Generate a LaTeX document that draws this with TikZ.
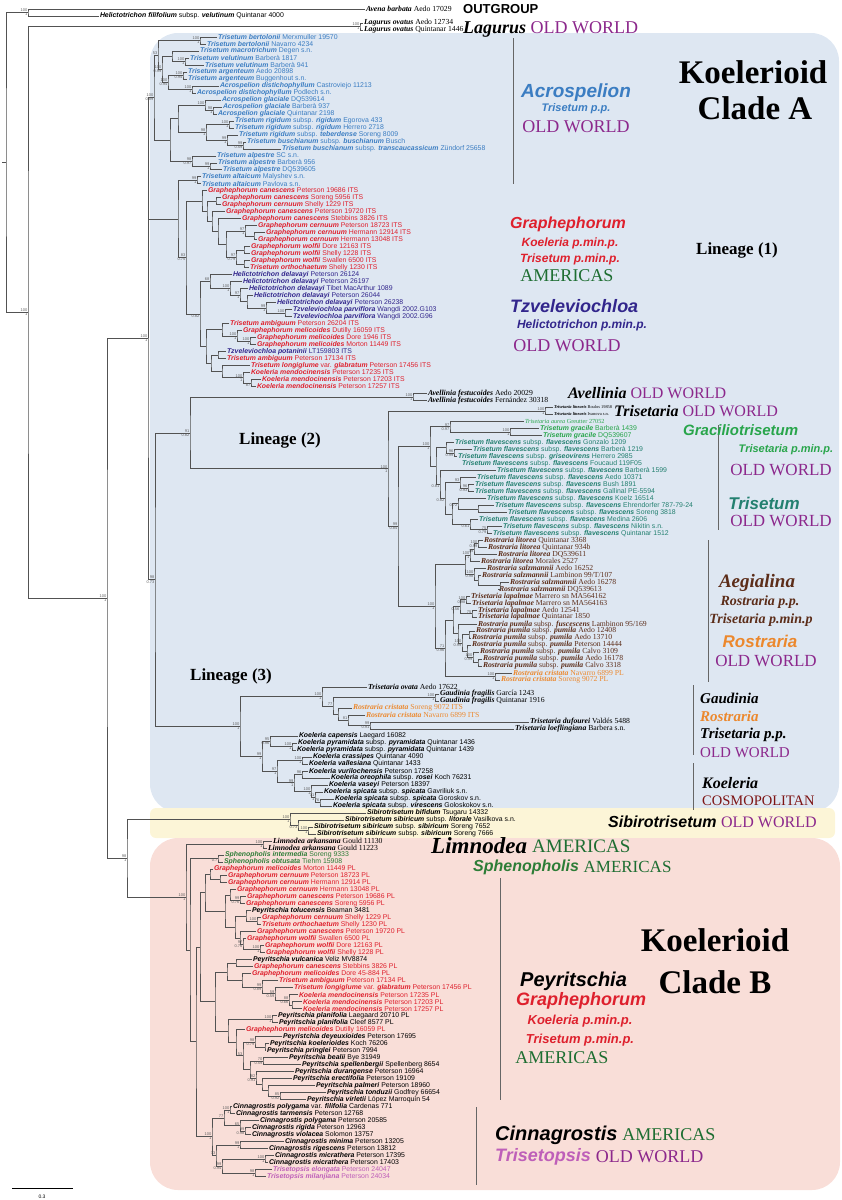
\documentclass[tikz,border=0pt]{standalone}
\usepackage{fontspec}
\setmainfont{Liberation Serif}
\setsansfont{Liberation Sans}
\usepackage{tikz}
\usetikzlibrary{calc,positioning}

\definecolor{acroblue}{RGB}{59,125,194}
\definecolor{graphred}{RGB}{222,32,45}
\definecolor{tzvindigo}{RGB}{50,38,140}
\definecolor{gracgreen}{RGB}{40,165,75}
\definecolor{flavteal}{RGB}{35,128,112}
\definecolor{rostbrown}{RGB}{92,45,25}
\definecolor{cristorange}{RGB}{236,136,45}
\definecolor{sphgreen}{RGB}{45,125,55}
\definecolor{tpink}{RGB}{190,95,185}
\definecolor{oldworld}{RGB}{140,40,140}
\definecolor{americas}{RGB}{30,110,50}
\definecolor{cosmo}{RGB}{125,20,20}
\definecolor{bgA}{RGB}{222,231,242}
\definecolor{bgS}{RGB}{252,245,215}
\definecolor{bgB}{RGB}{249,222,216}

\newcommand{\taxon}[1]{\textbf{\textit{#1}}}
\newcommand{\fsz}[1]{\fontsize{#1}{#1}\selectfont}
\newcommand{\flav}[1]{\taxon{Trisetum flavescens} subsp. \taxon{#1}}
\newcommand{\pum}[1]{\taxon{Rostraria pumila} subsp. \taxon{#1}}
% tip: name, row, x, style, text
\newcommand{\tip}[5]{\node[#4] (#1) at (#3pt,{-(2.01pt+6.99pt*#2)}) {#5};}
% support values left of a clade
\newcommand{\support}[3]{%
  \if\relax\detokenize{#2}\relax\else\node[bsup,anchor=south east] (#1-bs) at (#1) {#2};\fi
  \if\relax\detokenize{#3}\relax\else\node[bsup,anchor=north east] (#1-pp) at (#1) {#3};\fi
}
% clade: name, x, first child, last child, bootstrap, posterior
\newcommand{\clade}[6]{%
  \path let \p1=(#3), \p2=(#4) in (#2pt,{0.5*(\y1+\y2)}) coordinate (#1);
  \draw[branch] (#3) -| (#1) |- (#4);
  \support{#1}{#5}{#6}
}
% three-way clade: name, x, first, middle, last, bootstrap, posterior
\newcommand{\cladeiii}[7]{%
  \path let \p1=(#3), \p2=(#5) in (#2pt,{0.5*(\y1+\y2)}) coordinate (#1);
  \draw[branch] (#3) -| (#1) |- (#5);
  \draw[branch] (#1) |- (#4);
  \support{#1}{#6}{#7}
}

\begin{document}
\begin{tikzpicture}[x=1pt, y=-1pt,
    branch/.style={draw=black!68, line width=0.55pt},
    bsup/.style={font=\fsz{4}\sffamily, text=black!62, inner sep=0.4pt},
    tipS/.style={anchor=west, inner xsep=0.8pt, inner ysep=0pt, font=\fsz{6.9}\sffamily},
    tipR/.style={anchor=west, inner xsep=0.8pt, inner ysep=0pt, font=\fsz{7.7}\rmfamily},
    tA/.style={tipS, text=acroblue},
    tR/.style={tipS, text=graphred},
    tI/.style={tipS, text=tzvindigo},
    tK/.style={tipS, text=black},
    tS/.style={tipR, text=black},
    tSs/.style={tipR, text=black, font=\fsz{4.4}\rmfamily},
    tG/.style={tipR, text=gracgreen, font=\fsz{6.2}\rmfamily},
    tGs/.style={tipS, text=gracgreen},
    tT/.style={tipS, text=flavteal},
    tB/.style={tipR, text=rostbrown},
    tO/.style={tipR, text=cristorange},
    tSp/.style={tipS, text=sphgreen},
    tP/.style={tipS, text=tpink},
    bar/.style={draw=black!60, line width=0.8pt},
    grpsans/.style={font=\sffamily\bfseries\itshape, inner sep=0pt},
    grpserif/.style={font=\rmfamily, inner sep=0pt},
  ]
  \useasboundingbox (0,0) rectangle (842,1200);

  % shaded clades
  \fill[bgA, rounded corners=28pt] (150,33) rectangle (839,812);
  \fill[bgS, rounded corners=6pt] (150,808) rectangle (835,838);
  \fill[bgB, rounded corners=28pt] (150,838) rectangle (840,1190);

  % outgroup and Lagurus
  \tip{t1}{1}{365}{tS}{\taxon{Avena barbata} Aedo 17029}
  \tip{t2}{2}{99}{tK}{\taxon{Helictotrichon filifolium} subsp. \taxon{velutinum} Quintanar 4000}
  \tip{t3}{3}{363}{tS}{\taxon{Lagurus ovatus} Aedo 12734}
  \tip{t4}{4}{363}{tS}{\taxon{Lagurus ovatus} Quintanar 1446}

  % Acrospelion
  \tip{t5}{5}{217}{tA}{\taxon{Trisetum bertolonii} Merxmuller 19570}
  \tip{t6}{6}{206}{tA}{\taxon{Trisetum bertolonii} Navarro 4234}
  \tip{t7}{7}{199}{tA}{\taxon{Trisetum macrotrichum} Degen s.n.}
  \tip{t8}{8}{189}{tA}{\taxon{Trisetum velutinum} Barberà 1817}
  \tip{t9}{9}{204}{tA}{\taxon{Trisetum velutinum} Barberà 941}
  \tip{t10}{10}{187}{tA}{\taxon{Trisetum argenteum} Aedo 20898}
  \tip{t11}{11}{187}{tA}{\taxon{Trisetum argenteum} Buggenhout s.n.}
  \tip{t12}{12}{219}{tA}{\taxon{Acrospelion distichophyllum} Castroviejo 11213}
  \tip{t13}{13}{196}{tA}{\taxon{Acrospelion distichophyllum} Podlech s.n.}
  \tip{t14}{14}{221}{tA}{\taxon{Acrospelion glaciale} DQ539614}
  \tip{t15}{15}{222}{tA}{\taxon{Acrospelion glaciale} Barberà 937}
  \tip{t16}{16}{217}{tA}{\taxon{Acrospelion glaciale} Quintanar 2198}
  \tip{t17}{17}{234}{tA}{\taxon{Trisetum rigidum} subsp. \taxon{rigidum} Egorova 433}
  \tip{t18}{18}{234}{tA}{\taxon{Trisetum rigidum} subsp. \taxon{rigidum} Herrero 2718}
  \tip{t19}{19}{238}{tA}{\taxon{Trisetum rigidum} subsp. \taxon{teberdense} Soreng 8009}
  \tip{t20}{20}{246}{tA}{\taxon{Trisetum buschianum} subsp. \taxon{buschianum} Busch}
  \tip{t21}{21}{281}{tA}{\taxon{Trisetum buschianum} subsp. \taxon{transcaucassicum} Zündorf 25658}
  \tip{t22}{22}{216}{tA}{\taxon{Trisetum alpestre} SC s.n.}
  \tip{t23}{23}{217}{tA}{\taxon{Trisetum alpestre} Barberà 956}
  \tip{t24}{24}{222}{tA}{\taxon{Trisetum alpestre} DQ539605}
  \tip{t25}{25}{201}{tA}{\taxon{Trisetum altaicum} Malyshev s.n.}
  \tip{t26}{26}{201}{tA}{\taxon{Trisetum altaicum} Pavlova s.n.}

  % Graphephorum (ITS)
  \tip{t27}{27}{207}{tR}{\taxon{Graphephorum canescens} Peterson 19686 ITS}
  \tip{t28}{28}{221}{tR}{\taxon{Graphephorum canescens} Soreng 5956 ITS}
  \tip{t29}{29}{221}{tR}{\taxon{Graphephorum cernuum} Shelly 1229 ITS}
  \tip{t30}{30}{225}{tR}{\taxon{Graphephorum canescens} Peterson 19720 ITS}
  \tip{t31}{31}{241}{tR}{\taxon{Graphephorum canescens} Stebbins 3826 ITS}
  \tip{t32}{32}{257}{tR}{\taxon{Graphephorum cernuum} Peterson 18723 ITS}
  \tip{t33}{33}{265}{tR}{\taxon{Graphephorum cernuum} Hermann 12914 ITS}
  \tip{t34}{34}{257}{tR}{\taxon{Graphephorum cernuum} Hermann 13048 ITS}
  \tip{t35}{35}{250}{tR}{\taxon{Graphephorum wolfii} Dore 12163 ITS}
  \tip{t36}{36}{250}{tR}{\taxon{Graphephorum wolfii} Shelly 1228 ITS}
  \tip{t37}{37}{250}{tR}{\taxon{Graphephorum wolfii} Swallen 6500 ITS}
  \tip{t38}{38}{249}{tR}{\taxon{Trisetum orthochaetum} Shelly 1230 ITS}

  % Tzveleviochloa
  \tip{t39}{39}{232}{tI}{\taxon{Helictotrichon delavayi} Peterson 26124}
  \tip{t40}{40}{242}{tI}{\taxon{Helictotrichon delavayi} Peterson 26197}
  \tip{t41}{41}{248}{tI}{\taxon{Helictotrichon delavayi} Tibet MacArthur 1089}
  \tip{t42}{42}{253}{tI}{\taxon{Helictotrichon delavayi} Peterson 26044}
  \tip{t43}{43}{276}{tI}{\taxon{Helictotrichon delavayi} Peterson 26238}
  \tip{t44}{44}{292}{tI}{\taxon{Tzveleviochloa parviflora} Wangdi 2002.G103}
  \tip{t45}{45}{292}{tI}{\taxon{Tzveleviochloa parviflora} Wangdi 2002.G96}
  \tip{t46}{46}{229}{tR}{\taxon{Trisetum ambiguum} Peterson 26204 ITS}
  \tip{t47}{47}{242}{tR}{\taxon{Graphephorum melicoides} Dutilly 16059 ITS}
  \tip{t48}{48}{256}{tR}{\taxon{Graphephorum melicoides} Dore 1946 ITS}
  \tip{t49}{49}{256}{tR}{\taxon{Graphephorum melicoides} Morton 11449 ITS}
  \tip{t50}{50}{226}{tI}{\taxon{Tzveleviochloa potaninii} LT159803 ITS}
  \tip{t51}{51}{226}{tR}{\taxon{Trisetum ambiguum} Peterson 17134 ITS}
  \tip{t52}{52}{250}{tR}{\taxon{Trisetum longiglume} var. \taxon{glabratum} Peterson 17456 ITS}
  \tip{t53}{53}{250}{tR}{\taxon{Koeleria mendocinensis} Peterson 17235 ITS}
  \tip{t54}{54}{261}{tR}{\taxon{Koeleria mendocinensis} Peterson 17203 ITS}
  \tip{t55}{55}{256}{tR}{\taxon{Koeleria mendocinensis} Peterson 17257 ITS}

  % Lineage 2
  \tip{t56}{56}{427}{tS}{\taxon{Avellinia festucoides} Aedo 20029}
  \tip{t57}{57}{427}{tS}{\taxon{Avellinia festucoides} Fernández 30318}
  \tip{t58}{58}{553}{tSs}{\taxon{Trisetaria linearis} Boulos 19858}
  \tip{t59}{59}{553}{tSs}{\taxon{Trisetaria linearis} Ivanova s.n.}
  \tip{t60}{60}{524}{tG}{\textit{Trisetaria aurea} Greutter 27052}
  \tip{t61}{61}{539}{tGs}{\taxon{Trisetum gracile} Barberà 1439}
  \tip{t62}{62}{542}{tGs}{\taxon{Trisetum gracile} DQ539607}
  \tip{t63}{63}{454}{tT}{\flav{flavescens} Gonzalo 1209}
  \tip{t64}{64}{472}{tT}{\flav{flavescens} Barberà 1219}
  \tip{t65}{65}{457}{tT}{\flav{griseovirens} Herrero 2985}
  \tip{t66}{66}{461}{tT}{\flav{flavescens} Foucaud 119F05}
  \tip{t67}{67}{496}{tT}{\flav{flavescens} Barberà 1599}
  \tip{t68}{68}{476}{tT}{\flav{flavescens} Aedo 10371}
  \tip{t69}{69}{474}{tT}{\flav{flavescens} Bush 1891}
  \tip{t70}{70}{474}{tT}{\flav{flavescens} Gallinal PE-5594}
  \tip{t71}{71}{486}{tT}{\flav{flavescens} Koelz 16514}
  \tip{t72}{72}{494}{tT}{\flav{flavescens} Ehrendorfer 787-79-24}
  \tip{t73}{73}{507}{tT}{\flav{flavescens} Soreng 3818}
  \tip{t74}{74}{478}{tT}{\flav{flavescens} Medina 2606}
  \tip{t75}{75}{502}{tT}{\flav{flavescens} Nikitin s.n.}
  \tip{t76}{76}{492}{tT}{\flav{flavescens} Quintanar 1512}
  \tip{t77}{77}{483}{tB}{\taxon{Rostraria litorea} Quintanar 3368}
  \tip{t78}{78}{487}{tB}{\taxon{Rostraria litorea} Quintanar 934b}
  \tip{t79}{79}{497}{tB}{\taxon{Rostraria litorea} DQ539611}
  \tip{t80}{80}{480}{tB}{\taxon{Rostraria litorea} Morales 2527}
  \tip{t81}{81}{486}{tB}{\taxon{Rostraria salzmannii} Aedo 16252}
  \tip{t82}{82}{481}{tB}{\taxon{Rostraria salzmannii} Lambinon 99/T/107}
  \tip{t83}{83}{509}{tB}{\taxon{Rostraria salzmannii} Aedo 16278}
  \tip{t84}{84}{498}{tB}{\taxon{Rostraria salzmannii} DQ539613}
  \tip{t85}{85}{470}{tB}{\taxon{Trisetaria lapalmae} Marrero sn MA564162}
  \tip{t86}{86}{471}{tB}{\taxon{Trisetaria lapalmae} Marrero sn MA564163}
  \tip{t87}{87}{477}{tB}{\taxon{Trisetaria lapalmae} Aedo 12541}
  \tip{t88}{88}{477}{tB}{\taxon{Trisetaria lapalmae} Quintanar 1850}
  \tip{t89}{89}{477}{tB}{\pum{fuscescens} Lambinon 95/169}
  \tip{t90}{90}{475}{tB}{\pum{pumila} Aedo 12408}
  \tip{t91}{91}{471}{tB}{\pum{pumila} Aedo 13710}
  \tip{t92}{92}{471}{tB}{\pum{pumila} Peterson 14444}
  \tip{t93}{93}{479}{tB}{\pum{pumila} Calvo 3109}
  \tip{t94}{94}{482}{tB}{\pum{pumila} Aedo 16178}
  \tip{t95}{95}{482}{tB}{\pum{pumila} Calvo 3318}
  \tip{t96}{96}{512}{tO}{\taxon{Rostraria cristata} Navarro 6899 PL}
  \tip{t97}{97}{500}{tO}{\taxon{Rostraria cristata} Soreng 9072 PL}

  % Lineage 3
  \tip{t98}{98}{367}{tS}{\taxon{Trisetaria ovata} Aedo 17622}
  \tip{t99}{99}{439}{tS}{\taxon{Gaudinia fragilis} García 1243}
  \tip{t100}{100}{439}{tS}{\taxon{Gaudinia fragilis} Quintanar 1916}
  \tip{t101}{101}{352}{tO}{\taxon{Rostraria cristata} Soreng 9072 ITS}
  \tip{t102}{102}{365}{tO}{\taxon{Rostraria cristata} Navarro 6899 ITS}
  \tip{t103}{103}{529}{tS}{\taxon{Trisetaria dufourei} Valdés 5488}
  \tip{t104}{104}{514}{tS}{\taxon{Trisetaria loeflingiana} Barbera s.n.}
  \tip{t105}{105}{298}{tK}{\taxon{Koeleria capensis} Laegard 16082}
  \tip{t106}{106}{297}{tK}{\taxon{Koeleria pyramidata} subsp. \taxon{pyramidata} Quintanar 1436}
  \tip{t107}{107}{296}{tK}{\taxon{Koeleria pyramidata} subsp. \taxon{pyramidata} Quintanar 1439}
  \tip{t108}{108}{312}{tK}{\taxon{Koeleria crassipes} Quintanar 4090}
  \tip{t109}{109}{308}{tK}{\taxon{Koeleria vallesiana} Quintanar 1433}
  \tip{t110}{110}{308}{tK}{\taxon{Koeleria vurilochensis} Peterson 17258}
  \tip{t111}{111}{330}{tK}{\taxon{Koeleria oreophila} subsp. \taxon{rosei} Koch 76231}
  \tip{t112}{112}{328}{tK}{\taxon{Koeleria vaseyi} Peterson 18397}
  \tip{t113}{113}{323}{tK}{\taxon{Koeleria spicata} subsp. \taxon{spicata} Gavriliuk s.n.}
  \tip{t114}{114}{334}{tK}{\taxon{Koeleria spicata} subsp. \taxon{spicata} Goroskov s.n.}
  \tip{t115}{115}{332}{tK}{\taxon{Koeleria spicata} subsp. \taxon{virescens} Goloskokov s.n.}

  % Sibirotrisetum
  \tip{t116}{116}{366}{tK}{\taxon{Sibirotrisetum bifidum} Tsugaru 14332}
  \tip{t117}{117}{344}{tK}{\taxon{Sibirotrisetum sibiricum} subsp. \taxon{litorale} Vasilkova s.n.}
  \tip{t118}{118}{313}{tK}{\taxon{Sibirotrisetum sibiricum} subsp. \taxon{sibiricum} Soreng 7652}
  \tip{t119}{119}{316}{tK}{\taxon{Sibirotrisetum sibiricum} subsp. \taxon{sibiricum} Soreng 7666}

  % Clade B
  \tip{t120}{120}{272}{tS}{\taxon{Limnodea arkansana} Gould 11130}
  \tip{t121}{121}{267}{tS}{\taxon{Limnodea arkansana} Gould 11223}
  \tip{t122}{122}{224}{tSp}{\taxon{Sphenopholis intermedia} Soreng 9333}
  \tip{t123}{123}{223}{tSp}{\taxon{Sphenopholis obtusata} Tiehm 15908}
  \tip{t124}{124}{213}{tR}{\taxon{Graphephorum melicoides} Morton 11449 PL}
  \tip{t125}{125}{227}{tR}{\taxon{Graphephorum cernuum} Peterson 18723 PL}
  \tip{t126}{126}{227}{tR}{\taxon{Graphephorum cernuum} Hermann 12914 PL}
  \tip{t127}{127}{236}{tR}{\taxon{Graphephorum cernuum} Hermann 13048 PL}
  \tip{t128}{128}{246}{tR}{\taxon{Graphephorum canescens} Peterson 19686 PL}
  \tip{t129}{129}{245}{tR}{\taxon{Graphephorum canescens} Soreng 5956 PL}
  \tip{t130}{130}{251}{tK}{\taxon{Peyritschia tolucensis} Beaman 3481}
  \tip{t131}{131}{261}{tR}{\taxon{Graphephorum cernuum} Shelly 1229 PL}
  \tip{t132}{132}{261}{tR}{\taxon{Trisetum orthochaetum} Shelly 1230 PL}
  \tip{t133}{133}{256}{tR}{\taxon{Graphephorum canescens} Peterson 19720 PL}
  \tip{t134}{134}{246}{tR}{\taxon{Graphephorum wolfii} Swallen 6500 PL}
  \tip{t135}{135}{264}{tR}{\taxon{Graphephorum wolfii} Dore 12163 PL}
  \tip{t136}{136}{265}{tR}{\taxon{Graphephorum wolfii} Shelly 1228 PL}
  \tip{t137}{137}{252}{tK}{\taxon{Peyritschia vulcanica} Veliz MV8874}
  \tip{t138}{138}{253}{tR}{\taxon{Graphephorum canescens} Stebbins 3826 PL}
  \tip{t139}{139}{251}{tR}{\taxon{Graphephorum melicoides} Dore 45-884 PL}
  \tip{t140}{140}{278}{tR}{\taxon{Trisetum ambiguum} Peterson 17134 PL}
  \tip{t141}{141}{293}{tR}{\taxon{Trisetum longiglume} var. \taxon{glabratum} Peterson 17456 PL}
  \tip{t142}{142}{298}{tR}{\taxon{Koeleria mendocinensis} Peterson 17235 PL}
  \tip{t143}{143}{302}{tR}{\taxon{Koeleria mendocinensis} Peterson 17203 PL}
  \tip{t144}{144}{302}{tR}{\taxon{Koeleria mendocinensis} Peterson 17257 PL}
  \tip{t145}{145}{277}{tK}{\taxon{Peyritschia planifolia} Laegaard 20710 PL}
  \tip{t146}{146}{278}{tK}{\taxon{Peyritschia planifolia} Cleef 8577 PL}
  \tip{t147}{147}{245}{tR}{\taxon{Graphephorum melicoides} Dutilly 16059 PL}
  \tip{t148}{148}{282}{tK}{\taxon{Peyristchia deyeuxioides} Peterson 17695}
  \tip{t149}{149}{269}{tK}{\taxon{Peyritschia koelerioides} Koch 76206}
  \tip{t150}{150}{266}{tK}{\taxon{Peyritschia pringlei} Peterson 7994}
  \tip{t151}{151}{288}{tK}{\taxon{Peyritschia bealii} Bye 31949}
  \tip{t152}{152}{301}{tK}{\taxon{Peyritschia spellenbergii} Spellenberg 8654}
  \tip{t153}{153}{294}{tK}{\taxon{Peyritschia durangense} Peterson 16964}
  \tip{t154}{154}{292}{tK}{\taxon{Peyritschia erectifolia} Peterson 19109}
  \tip{t155}{155}{315}{tK}{\taxon{Peyritschia palmeri} Peterson 18960}
  \tip{t156}{156}{326}{tK}{\taxon{Peyritschia tonduzii} Godfrey 66654}
  \tip{t157}{157}{306}{tK}{\taxon{Peyritschia virletii} López Marroquín 54}
  \tip{t158}{158}{232}{tK}{\taxon{Cinnagrostis polygama} var. \taxon{filifolia} Cardenas 771}
  \tip{t159}{159}{235}{tK}{\taxon{Cinnagrostis tarmensis} Peterson 12768}
  \tip{t160}{160}{259}{tK}{\taxon{Cinnagrostis polygama} Peterson 20585}
  \tip{t161}{161}{251}{tK}{\taxon{Cinnagrostis rigida} Peterson 12963}
  \tip{t162}{162}{251}{tK}{\taxon{Cinnagrostis violacea} Solomon 13757}
  \tip{t163}{163}{284}{tK}{\taxon{Cinnagrostis minima} Peterson 13205}
  \tip{t164}{164}{268}{tK}{\taxon{Cinnagrostis rigescens} Peterson 13812}
  \tip{t165}{165}{274}{tK}{\taxon{Cinnagrostis micrathera} Peterson 17395}
  \tip{t166}{166}{268}{tK}{\taxon{Cinnagrostis micrathera} Peterson 17403}
  \tip{t167}{167}{272}{tP}{\taxon{Trisetopsis elongata} Peterson 24047}
  \tip{t168}{168}{266}{tP}{\taxon{Trisetopsis milanjiana} Peterson 24034}

  % clades, Acrospelion
  \clade{out}{28}{t1}{t2}{100}{1}
  \clade{lag}{360}{t3}{t4}{100}{1}
  \clade{bert}{200}{t5}{t6}{100}{1}
  \clade{velu}{185}{t8}{t9}{100}{1}
  \clade{mv}{172}{t7}{velu}{}{}
  \clade{arg}{183}{t10}{t11}{100}{0.94}
  \clade{dist}{192}{t12}{t13}{100}{1}
  \clade{ad}{168}{arg}{dist}{100}{0.94}
  \clade{mvad}{162}{mv}{ad}{100}{0.99}
  \clade{acrtop}{158}{bert}{mvad}{53}{}
  \clade{gla2}{213}{t15}{t16}{98}{1}
  \clade{gla}{205}{t14}{gla2}{100}{}
  \clade{rig}{229}{t17}{t18}{100}{1}
  \clade{busch}{243}{t20}{t21}{99}{0.59}
  \clade{teb}{227}{t19}{busch}{99}{1}
  \clade{rr}{206}{rig}{teb}{98}{1}
  \clade{glarig}{178}{gla}{rr}{}{}
  \clade{alp2}{210}{t23}{t24}{99}{1}
  \clade{alp}{192}{t22}{alp2}{98}{0.97}
  \clade{ga}{170}{glarig}{alp}{}{}
  \clade{acr}{154}{acrtop}{ga}{100}{0.89}
  \clade{alt}{197}{t25}{t26}{99}{1}

  % Graphephorum and Tzveleviochloa (lineage 1)
  \clade{c1}{216}{t28}{t29}{}{}
  \clade{cer2}{254}{t33}{t34}{}{}
  \clade{cer}{245}{t32}{cer2}{97}{1}
  \clade{w1}{244}{t35}{t36}{}{}
  \clade{w2}{244}{t37}{t38}{}{}
  \clade{wol}{236}{w1}{w2}{97}{0.79}
  \clade{cw}{226}{cer}{wol}{}{}
  \clade{g3}{218}{t31}{cw}{}{}
  \clade{g2}{212}{t30}{g3}{}{}
  \clade{g1}{207}{c1}{g2}{}{}
  \clade{gra}{202}{t27}{g1}{}{}
  \clade{tp}{285}{t44}{t45}{100}{}
  \clade{h5}{266}{t43}{tp}{99}{1}
  \clade{h4}{247}{t42}{h5}{}{}
  \clade{h3}{240}{t41}{h4}{97}{1}
  \clade{h2}{230}{t40}{h3}{100}{1}
  \clade{hel}{210}{t39}{h2}{68}{}
  \clade{mel2}{250}{t48}{t49}{100}{1}
  \clade{mel}{237}{t47}{mel2}{100}{1}
  \clade{am1}{222}{t46}{mel}{}{}
  \clade{pa}{218}{t50}{t51}{}{}
  \clade{men2}{251}{t54}{t55}{}{87}
  \clade{men}{243}{t53}{men2}{100}{1}
  \clade{lm}{222}{t52}{men}{}{}
  \clade{am2}{211}{pa}{lm}{}{}
  \clade{amb}{206}{am1}{am2}{}{}
  \clade{tz}{200}{hel}{amb}{}{0.82}
  \clade{gt}{186}{gra}{tz}{83}{0.75}
  \clade{alg}{178}{alt}{gt}{}{}

  % lineage 2
  \clade{avel}{413}{t56}{t57}{100}{1}
  \clade{lin}{545}{t58}{t59}{100}{1}
  \clade{grac}{510}{t61}{t62}{100}{1}
  \clade{ag}{450}{t60}{grac}{97}{0.97}
  \clade{f1}{454}{t64}{t65}{96}{0.99}
  \clade{f0}{446}{t63}{f1}{}{}
  \clade{f3}{468}{t69}{t70}{96}{0.93}
  \clade{f2}{460}{t68}{f3}{93}{}
  \clade{f5}{478}{t72}{t73}{}{}
  \clade{f4}{458}{t71}{f5}{}{0.72}
  \clade{f7}{487}{t75}{t76}{75}{0.79}
  \clade{f6}{470}{t74}{f7}{}{0.61}
  \clade{f8}{452}{f4}{f6}{}{}
  \clade{f9}{445}{f2}{f8}{}{0.82}
  \clade{f10}{440}{t67}{f9}{}{0.81}
  \clade{fl}{436}{f0}{f10}{}{}
  \clade{tri}{430}{ag}{fl}{100}{1}
  \clade{l1}{478}{t77}{t78}{100}{0.99}
  \clade{l2}{474}{l1}{t79}{}{79}
  \clade{lit}{470}{l2}{t80}{100}{1}
  \clade{s2}{500}{t83}{t84}{}{}
  \clade{s1}{478}{t82}{s2}{}{}
  \clade{sal}{474}{t81}{s1}{100}{0.98}
  \clade{rl}{465}{lit}{sal}{}{}
  \clade{lp1}{466}{t85}{t86}{100}{0.98}
  \clade{lp2}{472}{t87}{t88}{75}{}
  \clade{lap}{460}{lp1}{lp2}{}{0.56}
  \clade{p1}{469}{t90}{t91}{}{}
  \clade{p3}{478}{t94}{t95}{}{}
  \clade{p2}{473}{t93}{p3}{100}{0.99}
  \clade{p4}{467}{t92}{p2}{}{}
  \clade{p5}{462}{p1}{p4}{100}{0.99}
  \clade{pum}{458}{t89}{p5}{}{}
  \clade{lpum}{453}{lap}{pum}{}{}
  \clade{cri}{495}{t96}{t97}{100}{1}
  \clade{rp}{445}{lpum}{cri}{71}{0.96}
  \clade{ros}{435}{rl}{rp}{100}{1}
  \clade{yy}{398}{tri}{ros}{99}{0.84}
  \clade{xx}{388}{lin}{yy}{100}{1}
  \clade{lin2}{190}{avel}{xx}{91}{0.82}

  % lineage 3
  \clade{gau}{435}{t99}{t100}{100}{1}
  \clade{dl}{370}{t103}{t104}{99}{0.91}
  \clade{cr2}{348}{t102}{dl}{81}{}
  \clade{cr1}{338}{t101}{cr2}{}{}
  \clade{gc}{333}{gau}{cr1}{77}{}
  \clade{gg}{322}{t98}{gc}{100}{1}
  \clade{pyr}{292}{t106}{t107}{100}{1}
  \clade{kc}{270}{t105}{pyr}{95}{0.96}
  \clade{cv}{302}{t108}{t109}{100}{1}
  \clade{vo}{302}{t110}{t111}{96}{}
  \clade{sp2}{320}{t114}{t115}{76}{}
  \clade{sp1}{315}{t113}{sp2}{71}{1}
  \clade{vs}{311}{t112}{sp1}{100}{1}
  \clade{vov}{294}{vo}{vs}{99}{1}
  \clade{k3}{277}{cv}{vov}{97}{1}
  \clade{koe}{262}{kc}{k3}{99}{1}
  \clade{lin3}{240}{gg}{koe}{100}{1}
  \clade{l23}{155}{lin2}{lin3}{98}{0.73}
  \cladeiii{cladeA}{148}{acr}{alg}{l23}{100}{1}

  % Sibirotrisetum and clade B
  \clade{ss}{308}{t118}{t119}{100}{1}
  \clade{sl}{298}{t117}{ss}{}{0.73}
  \clade{sib}{290}{t116}{sl}{100}{1}
  \clade{lim}{263}{t120}{t121}{100}{1}
  \clade{sph}{218}{t122}{t123}{}{0.7}
  \clade{b1}{220}{t125}{t126}{}{}
  \clade{b2}{210}{t124}{b1}{}{}
  \clade{b3}{240}{t128}{t129}{99}{0.76}
  \clade{b4}{230}{t127}{b3}{}{}
  \clade{b5}{257}{t131}{t132}{100}{}
  \clade{b6}{246}{t130}{b5}{}{}
  \clade{w}{260}{t135}{t136}{100}{1}
  \clade{w2b}{243}{t134}{w}{97}{0.76}
  \clade{b7}{240}{t133}{w2b}{}{}
  \clade{b8}{235}{b6}{b7}{}{}
  \clade{b9}{225}{b4}{b8}{}{}
  \clade{b10}{205}{b2}{b9}{}{}
  \clade{vul}{236}{t137}{t138}{}{}
  \clade{m2}{292}{t143}{t144}{}{}
  \clade{m1}{289}{t142}{m2}{88}{0.66}
  \clade{lg}{275}{t141}{m1}{59}{0.59}
  \clade{al}{262}{t140}{lg}{99}{0.89}
  \clade{dd}{242}{t139}{al}{}{}
  \clade{vd}{227}{vul}{dd}{}{}
  \clade{pl}{272}{t145}{t146}{100}{1}
  \clade{kp}{265}{t149}{t150}{}{}
  \clade{dkp}{255}{t148}{kp}{98}{0.79}
  \clade{bs}{263}{t151}{t152}{70}{0.59}
  \clade{tv}{280}{t156}{t157}{85}{0.92}
  \clade{pt}{268}{t155}{tv}{}{}
  \clade{ep}{262}{t154}{pt}{}{}
  \clade{dep}{256}{t153}{ep}{82}{0.91}
  \clade{bsd}{250}{bs}{dep}{}{}
  \clade{pey}{243}{dkp}{bsd}{53}{}
  \clade{dp}{236}{t147}{pey}{}{}
  \clade{pdp}{228}{pl}{dp}{}{}
  \clade{mid}{215}{vd}{pdp}{}{}
  \clade{gp}{200}{b10}{mid}{}{}
  \clade{c1b}{230}{t158}{t159}{100}{1}
  \clade{c2}{245}{t161}{t162}{99}{0.98}
  \clade{c3}{240}{t160}{c2}{65}{}
  \clade{c4}{224}{c1b}{c3}{77}{}
  \clade{c5}{240}{t163}{t164}{99}{1}
  \clade{c6}{265}{t165}{t166}{100}{1}
  \clade{tps}{255}{t167}{t168}{98}{1}
  \clade{c7}{222}{c6}{tps}{99}{0.94}
  \clade{c8}{216}{c5}{c7}{73}{}
  \clade{cin}{212}{c4}{c8}{100}{1}
  \clade{gpc}{196}{gp}{cin}{}{}
  \clade{bb2}{190}{sph}{gpc}{}{}
  \clade{cladeB}{186}{lim}{bb2}{100}{1}
  \clade{sb}{127}{sib}{cladeB}{98}{1}
  \clade{n2}{107}{cladeA}{sb}{100}{1}
  \clade{n1}{28}{lag}{n2}{100}{1}
  \clade{root}{6}{out}{n1}{}{}
  \draw[branch] (root) -- ++(-4,0);

  % bars beside the groups
  \draw[bar] (513,38) -- (513,184);
  \draw[bar] (718,425) -- (718,530);
  \draw[bar] (708,540) -- (708,682);
  \draw[bar] (693,685) -- (693,755);
  \draw[bar] (693,763) -- (693,810);
  \draw[bar] (500,878) -- (500,1100);
  \draw[bar] (476,1107) -- (476,1185);

  % group labels
  \node[anchor=west, font=\fsz{13}\sffamily\bfseries, inner sep=0pt] (outgl) at (463,9) {OUTGROUP};
  \node[grpserif, anchor=west, font=\fsz{18}\rmfamily] (lagl) at (463,29) {\taxon{Lagurus} \textcolor{oldworld}{OLD WORLD}};
  \node[grpsans, text=acroblue, font=\fsz{19}\sffamily\bfseries\itshape] (acrl) at (576,93) {Acrospelion};
  \node[grpsans, text=acroblue, font=\fsz{11}\sffamily\bfseries\itshape] (acrl2) at (576,109) {Trisetum p.p.};
  \node[grpserif, text=oldworld, font=\fsz{18}\rmfamily] (acrl3) at (576,127) {OLD WORLD};
  \node[font=\fsz{33}\rmfamily\bfseries, inner sep=0pt] (kA1) at (753,72) {Koelerioid};
  \node[font=\fsz{33}\rmfamily\bfseries, inner sep=0pt] (kA2) at (755,108) {Clade A};
  \node[font=\fsz{17}\rmfamily\bfseries, inner sep=0pt] (lin1l) at (737,250) {Lineage (1)};
  \node[grpsans, anchor=west, text=graphred, font=\fsz{16}\sffamily\bfseries\itshape] (grl) at (510,224) {Graphephorum};
  \node[grpsans, text=graphred, font=\fsz{12}\sffamily\bfseries\itshape] (grl2) at (570,243) {Koeleria p.min.p.};
  \node[grpsans, text=graphred, font=\fsz{12}\sffamily\bfseries\itshape] (grl3) at (570,259) {Trisetum p.min.p.};
  \node[grpserif, text=americas, font=\fsz{18}\rmfamily] (grl4) at (567,276) {AMERICAS};
  \node[grpsans, anchor=west, text=tzvindigo, font=\fsz{18}\sffamily\bfseries\itshape] (tzl) at (510,306) {Tzveleviochloa};
  \node[grpsans, text=tzvindigo, font=\fsz{12}\sffamily\bfseries\itshape] (tzl2) at (582,325) {Helictotrichon p.min.p.};
  \node[grpserif, text=oldworld, font=\fsz{18}\rmfamily] (tzl3) at (567,346) {OLD WORLD};
  \node[grpserif, anchor=west, font=\fsz{16}\rmfamily] (avl) at (568,393) {\taxon{Avellinia} \textcolor{oldworld}{OLD WORLD}};
  \node[grpserif, anchor=west, font=\fsz{16}\rmfamily] (trl) at (614,411) {\taxon{Trisetaria} \textcolor{oldworld}{OLD WORLD}};
  \node[grpsans, anchor=west, text=gracgreen, font=\fsz{15}\sffamily\bfseries\itshape] (gcl) at (683,430) {Graciliotrisetum};
  \node[grpsans, text=gracgreen, font=\fsz{11}\sffamily\bfseries\itshape] (gcl2) at (786,450) {Trisetaria p.min.p.};
  \node[grpserif, text=oldworld, font=\fsz{17}\rmfamily] (gcl3) at (781,470) {OLD WORLD};
  \node[grpsans, text=flavteal, font=\fsz{17}\sffamily\bfseries\itshape] (tsl) at (764,503) {Trisetum};
  \node[grpserif, text=oldworld, font=\fsz{17}\rmfamily] (tsl2) at (781,521) {OLD WORLD};
  \node[grpserif, text=rostbrown, font=\fsz{19}\rmfamily\bfseries\itshape] (agl) at (757,583) {Aegialina};
  \node[grpserif, text=rostbrown, font=\fsz{14}\rmfamily\bfseries\itshape] (agl2) at (760,602) {Rostraria p.p.};
  \node[grpserif, text=rostbrown, font=\fsz{14}\rmfamily\bfseries\itshape] (agl3) at (761,620) {Trisetaria p.min.p};
  \node[grpsans, text=cristorange, font=\fsz{17}\sffamily\bfseries\itshape] (agl4) at (760,641) {Rostraria};
  \node[grpserif, text=oldworld, font=\fsz{17}\rmfamily] (agl5) at (766,661) {OLD WORLD};
  \node[grpserif, anchor=west, font=\fsz{15}\rmfamily\bfseries\itshape] (gal) at (700,698) {Gaudinia};
  \node[grpserif, anchor=west, text=cristorange, font=\fsz{15}\rmfamily\bfseries\itshape] (gal2) at (700,716) {Rostraria};
  \node[grpserif, anchor=west, font=\fsz{15}\rmfamily\bfseries\itshape] (gal3) at (700,735) {Trisetaria p.p.};
  \node[grpserif, anchor=west, text=oldworld, font=\fsz{15}\rmfamily] (gal4) at (700,753) {OLD WORLD};
  \node[grpserif, anchor=west, font=\fsz{16}\rmfamily\bfseries\itshape] (kol) at (702,783) {Koeleria};
  \node[grpserif, anchor=west, text=cosmo, font=\fsz{14.5}\rmfamily] (kol2) at (702,801) {COSMOPOLITAN};
  \node[grpsans, anchor=west, font=\fsz{16}\sffamily\bfseries\itshape] (sil) at (608,822) {Sibirotrisetum};
  \node[grpserif, anchor=west, text=oldworld, font=\fsz{16}\rmfamily] (sil2) at (sil.east) {~OLD WORLD};
  \node[grpserif, anchor=west, font=\fsz{23}\rmfamily\bfseries\itshape] (lil) at (431,846) {Limnodea};
  \node[grpserif, anchor=west, text=americas, font=\fsz{19}\rmfamily] (lil2) at (lil.east) {~AMERICAS};
  \node[grpsans, anchor=west, text=sphgreen, font=\fsz{16}\sffamily\bfseries\itshape] (spl) at (473,867) {Sphenopholis};
  \node[grpserif, anchor=west, text=americas, font=\fsz{17}\rmfamily] (spl2) at (spl.east) {~AMERICAS};
  \node[font=\fsz{33}\rmfamily\bfseries, inner sep=0pt] (kB1) at (715,940) {Koelerioid};
  \node[font=\fsz{33}\rmfamily\bfseries, inner sep=0pt] (kB2) at (715,982) {Clade B};
  \node[grpsans, anchor=west, font=\fsz{20}\sffamily\bfseries\itshape] (pyl) at (520,981) {Peyritschia};
  \node[grpsans, anchor=west, text=graphred, font=\fsz{18}\sffamily\bfseries\itshape] (pyl2) at (516,1001) {Graphephorum};
  \node[grpsans, text=graphred, font=\fsz{13}\sffamily\bfseries\itshape] (pyl3) at (580,1021) {Koeleria p.min.p.};
  \node[grpsans, text=graphred, font=\fsz{13}\sffamily\bfseries\itshape] (pyl4) at (580,1040) {Trisetum p.min.p.};
  \node[grpserif, text=americas, font=\fsz{18}\rmfamily] (pyl5) at (562,1058) {AMERICAS};
  \node[grpsans, anchor=west, font=\fsz{20}\sffamily\bfseries\itshape] (cil) at (495,1135) {Cinnagrostis};
  \node[grpserif, anchor=west, text=americas, font=\fsz{18}\rmfamily] (cil2) at (cil.east) {~AMERICAS};
  \node[grpsans, anchor=west, text=tpink, font=\fsz{18}\sffamily\bfseries\itshape] (tpl) at (495,1157) {Trisetopsis};
  \node[grpserif, anchor=west, text=oldworld, font=\fsz{18}\rmfamily] (tpl2) at (tpl.east) {~OLD WORLD};
  \node[font=\fsz{17}\rmfamily\bfseries, inner sep=0pt] (lin2l) at (280,440) {Lineage (2)};
  \node[font=\fsz{17}\rmfamily\bfseries, inner sep=0pt] (lin3l) at (231,676) {Lineage (3)};

  % scale bar
  \draw[line width=0.8pt] (12,1188) -- (73,1188);
  \node[font=\fsz{5}\sffamily, inner sep=0pt] (scl) at (42,1197) {0.3};
\end{tikzpicture}
\end{document}
